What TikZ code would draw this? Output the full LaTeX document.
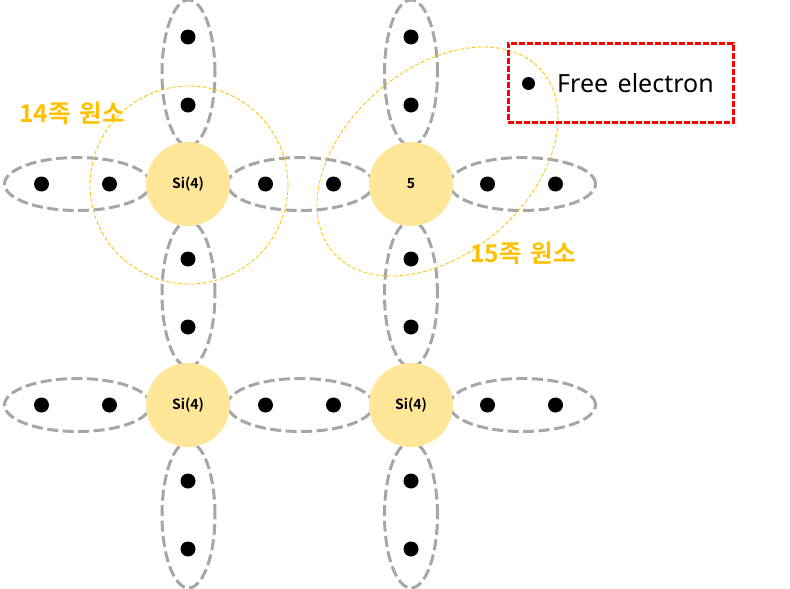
\documentclass[tikz,border=0pt]{standalone}
\usepackage{fontspec}
\setmainfont{Noto Sans}
\newfontfamily\krfont{Noto Sans CJK KR}[BoldFont={Noto Sans CJK KR Bold},WordSpace=1.6]
\definecolor{atomfill}{HTML}{FFE699}
\definecolor{bondgray}{HTML}{A6A6A6}
\definecolor{groupgold}{HTML}{FFC000}
\tikzset{
  bondh/.style={ellipse,draw=bondgray,line width=3pt,dash pattern=on 11pt off 4.5pt,minimum width=146pt,minimum height=53pt,inner sep=0pt},
  bondv/.style={ellipse,draw=bondgray,line width=3pt,dash pattern=on 11pt off 4.5pt,minimum width=53pt,minimum height=146pt,inner sep=0pt},
  atom/.style={circle,fill=atomfill,minimum size=84pt,inner sep=0pt,font=\krfont\fontsize{14pt}{16pt}\selectfont\bfseries},
  electron/.style={circle,fill=black,minimum size=15pt,inner sep=0pt},
  groupline/.style={draw=groupgold,line width=0.8pt,dash pattern=on 4pt off 2pt},
  grouplabel/.style={text=groupgold,font=\krfont\fontsize{24.5pt}{28pt}\selectfont\bfseries,inner sep=0pt}
}
\usetikzlibrary{shapes.geometric}
\begin{document}
\begin{tikzpicture}[x=1pt,y=-1pt]
\useasboundingbox (0,0) rectangle (790,589);
% bonds
\node[bondv] (v1) at (188.5,73) {};
\node[bondv] (v2) at (188.5,294) {};
\node[bondv] (v3) at (188.5,515) {};
\node[bondv] (v4) at (411,73) {};
\node[bondv] (v5) at (411,294) {};
\node[bondv] (v6) at (411,515) {};
\node[bondh] (h1) at (77.5,184) {};
\node[bondh] (h2) at (300.5,184) {};
\node[bondh] (h3) at (522.5,184) {};
\node[bondh] (h4) at (77.5,405) {};
\node[bondh] (h5) at (300.5,405) {};
\node[bondh] (h6) at (522.5,405) {};
% atoms
\node[atom] (a1) at (188,184) {Si(4)};
\node[atom] (a2) at (411,184) {5};
\node[atom] (a3) at (188,405) {Si(4)};
\node[atom] (a4) at (411,405) {Si(4)};
% electrons
\foreach \yy/\r in {184/a,405/b}{
  \foreach \xx in {41.5,109.5,265.5,333.5,487.5,555.5}{
    \node[electron] (e\r\xx) at (\xx,\yy) {};
  }
}
\foreach \xx/\r in {188/c,411/d}{
  \foreach \yy in {37,105,259,327,481,549}{
    \node[electron] (e\r\yy) at (\xx,\yy) {};
  }
}
% group outlines
\node[circle,groupline,minimum size=198pt,inner sep=0pt] (g14) at (189,185) {};
\node[ellipse,groupline,rotate=41.2,minimum width=276.6pt,minimum height=184.4pt,inner sep=0pt] (g15) at (437.5,161.5) {};
\node[grouplabel,anchor=west] (l14) at (19,113) {14족 원소};
\node[grouplabel,anchor=west] (l15) at (470,253) {15족 원소};
% legend
\node[draw=red,line width=3pt,dash pattern=on 6pt off 2pt,minimum width=225pt,minimum height=79pt,inner sep=0pt] (legend) at (620.5,82.5) {};
\node[circle,fill=black,minimum size=13pt,inner sep=0pt] (ldot) at (528.5,83.5) {};
\node[anchor=west,inner sep=0pt,font=\fontsize{25pt}{29pt}\selectfont] (ltext) at (557,83) {Free\hspace{0.12em} electron};
\end{tikzpicture}
\end{document}
